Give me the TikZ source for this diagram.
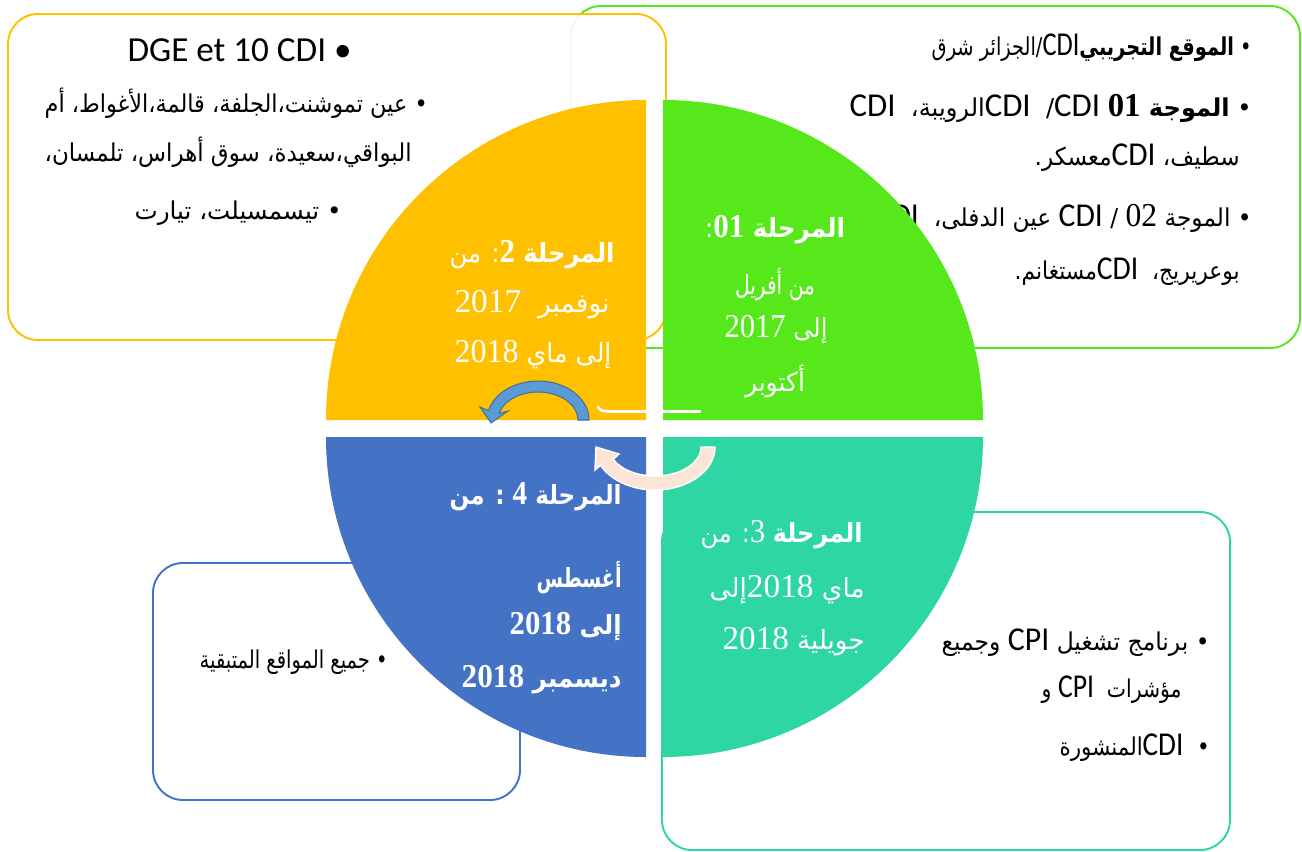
\documentclass[tikz,border=0pt]{standalone}
\usepackage{fontspec}
\usetikzlibrary{calc}
\TeXXeTstate=1
\newfontfamily\arabicfont[Script=Arabic]{DejaVu Sans}
\newfontfamily\latinfont{Carlito}
\newfontfamily\numfont{Liberation Serif}
\definecolor{phaseyellow}{HTML}{FFC000}
\definecolor{phasegreen}{HTML}{56E81B}
\definecolor{phaseteal}{HTML}{2ED6A4}
\definecolor{phaseblue}{HTML}{4472C4}
\definecolor{arrowblue}{HTML}{5B9BD5}
\definecolor{arrowblueline}{HTML}{41719C}
\definecolor{arrowpeach}{HTML}{FBE5D6}
\newcommand{\artext}[1]{{\arabicfont\beginR #1\endR}}
\newcommand{\fitw}[2]{\resizebox{#1}{\height}{#2}}
\newcommand{\cdi}{{\latinfont\fontsize{19}{22}\selectfont CDI}}
\newcommand{\cpi}{{\latinfont\fontsize{19}{22}\selectfont CPI}}
\newcommand{\nm}[1]{{\numfont\fontsize{19}{22}\selectfont #1}}
\tikzset{
    roundbox/.style = {rounded corners=0.6cm, line width=1.1pt},
    boxline/.style = {anchor=east, inner sep=0pt, font=\fontsize{14}{17}\selectfont},
    phaseline/.style = {inner sep=0pt, text=white, font=\fontsize{15}{18}\selectfont},
    bluearrow/.style = {fill=arrowblue, draw=arrowblueline, line width=0.6pt},
    peacharrow/.style = {fill=arrowpeach, draw=white, line width=0.8pt}
}
\begin{document}
\begin{tikzpicture}[x=0.02cm, y=-0.02cm]
    \useasboundingbox (0,0) rectangle (1302,852);
    % boxes behind the circle
    \draw[roundbox, draw=phasegreen] (571,6) rectangle (1300,348);
    \draw[roundbox, draw=phaseyellow, fill=white, fill opacity=0.9] (8,14) rectangle (666,340);
    \draw[roundbox, draw=phaseteal] (662,512) rectangle (1230,850);
    \draw[roundbox, draw=phaseblue] (153,563) rectangle (520,800);
    % box texts
    \node[boxline, font=\fontsize{20}{24}\selectfont] (t1) at (352,50) {\latinfont DGE et 10 CDI •};
    \node[boxline] (t2) at (428,103) {\fitw{7.66cm}{\artext{• عين تموشنت،الجلفة، قالمة،الأغواط، أم}}};
    \node[boxline] (t3) at (412,152) {\fitw{7.34cm}{\artext{البواقي،سعيدة، سوق أهراس، تلمسان،}}};
    \node[boxline] (t4) at (342,213) {\fitw{4.14cm}{\artext{• تيسمسيلت، تيارت}}};
    \node[boxline] (r1) at (1252,48) {\fitw{6.4cm}{\artext{• \textbf{الموقع التجريبي}\cdi/الجزائر شرق}}};
    \node[boxline] (r2) at (1252,108) {\fitw{8.04cm}{\artext{• \textbf{الموجة \nm{\bfseries 01}} \cdi/\ \ \cdi الرويبة،\ \ \cdi}}};
    \node[boxline] (r3) at (1240,158) {\fitw{4.1cm}{\artext{سطيف، \cdi معسكر.}}};
    \node[boxline] (r4) at (1252,218) {\fitw{7.54cm}{\artext{• الموجة \nm{02} / \cdi\ عين الدفلى،\ \ \cdi}}};
    \node[boxline] (r5) at (1240,272) {\fitw{4.5cm}{\artext{بوعريريج،\ \ \cdi مستغانم.}}};
    \node[boxline] (b1) at (1210,643) {\fitw{5.36cm}{\artext{• برنامج تشغيل \cpi\ وجميع}}};
    \node[boxline] (b2) at (1182,690) {\fitw{2.8cm}{\artext{مؤشرات\ \ \cpi\ و}}};
    \node[boxline] (b3) at (1210,748) {\fitw{3cm}{\artext{•\ \ \cdi المنشورة}}};
    \node[boxline] (l0) at (388,662) {\fitw{3.76cm}{\artext{• جميع المواقع المتبقية}}};
    % the four phases
    \fill[phaseyellow] (646,420) -- (326,420) arc[start angle=180, end angle=270, radius=320] -- cycle;
    \fill[phasegreen] (663,420) -- (663,100) arc[start angle=270, end angle=360, radius=320] -- cycle;
    \fill[phaseteal] (663,437) -- (983,437) arc[start angle=0, end angle=90, radius=320] -- cycle;
    \fill[phaseblue] (646,437) -- (646,757) arc[start angle=90, end angle=180, radius=320] -- cycle;
    \node[phaseline] (y1) at (532,255) {\fitw{3.3cm}{\artext{\textbf{المرحلة \nm{\bfseries 2}}: من}}};
    \node[phaseline] (y2) at (532,305) {\fitw{3.1cm}{\artext{نوفمبر\ \ \nm{2017}}}};
    \node[phaseline] (y3) at (533,355) {\fitw{3.14cm}{\artext{إلى ماي \nm{2018}}}};
    \node[phaseline] (g1) at (775,230) {\fitw{2.8cm}{\artext{\textbf{المرحلة \nm{\bfseries 01}}:}}};
    \node[phaseline] (g2) at (775,285) {\fitw{1.6cm}{\artext{من أفريل}}};
    \node[phaseline] (g3) at (776,330) {\fitw{2.06cm}{\artext{إلى \nm{2017}}}};
    \node[phaseline] (g4) at (775,382) {\fitw{1.2cm}{\artext{أكتوبر}}};
    \node[phaseline, anchor=east] (c1) at (863,535) {\fitw{3.24cm}{\artext{\textbf{المرحلة} \nm{3}: من}}};
    \node[phaseline, anchor=east] (c2) at (865,590) {\fitw{3.1cm}{\artext{ماي \nm{2018}إلى}}};
    \node[phaseline, anchor=east] (c3) at (865,642) {\fitw{2.84cm}{\artext{جويلية \nm{2018}}}};
    \node[phaseline, anchor=east] (l1) at (622,497) {\fitw{3.44cm}{\artext{\bfseries المرحلة \nm{\bfseries 4} : من}}};
    \node[phaseline, anchor=east] (l2) at (622,578) {\fitw{1.7cm}{\artext{\bfseries أغسطس}}};
    \node[phaseline, anchor=east] (l3) at (622,627) {\fitw{2.24cm}{\artext{\bfseries إلى \nm{\bfseries 2018}}}};
    \node[phaseline, anchor=east] (l4) at (622,680) {\fitw{3.2cm}{\artext{\bfseries ديسمبر \nm{\bfseries 2018}}}};
    % curved arrows
    \coordinate (bc) at (538,420);
    \coordinate (pc) at (655,447);
    \filldraw[bluearrow] ($(bc)+(0:51 and 39)$) arc[start angle=0, end angle=-166, x radius=51, y radius=39]
        -- (480,407) -- (491,423) -- (508,411) -- ($(bc)+(-166:40 and 28)$)
        arc[start angle=-166, end angle=0, x radius=40, y radius=28] -- cycle;
    \filldraw[peacharrow] ($(pc)+(0:60 and 43)$) arc[start angle=0, end angle=155, x radius=60, y radius=43]
        -- (595,470) -- (596,447) -- (619,454) -- ($(pc)+(155:46 and 29)$)
        arc[start angle=155, end angle=0, x radius=46, y radius=29] -- cycle;
    \draw[white, line width=1.5pt, line cap=round] (598,407) .. controls (601,411) .. (612,411.5) -- (700,411.5);
\end{tikzpicture}
\end{document}
